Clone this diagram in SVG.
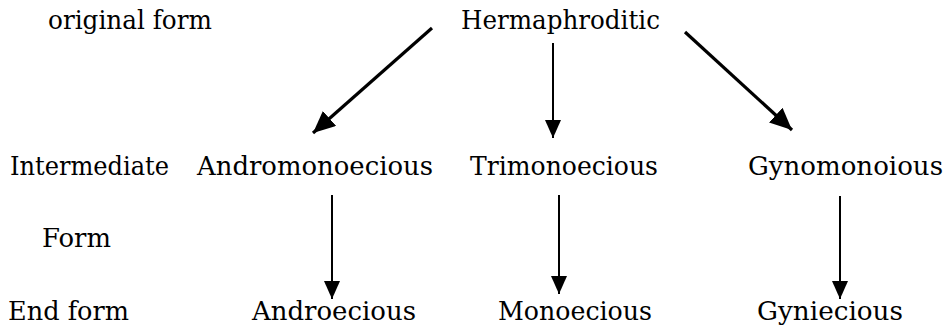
<svg xmlns="http://www.w3.org/2000/svg" width="949" height="334" viewBox="0 0 949 334">
<style>
text{font-family:"DejaVu Serif",serif;font-size:26px;fill:#000}
.c{stroke:#000;fill:none}
.thick{stroke-width:3.2}
.thin{stroke-width:2}
</style>
<defs>
<marker id="big" markerUnits="userSpaceOnUse" markerWidth="24" markerHeight="24" refX="22" refY="10" orient="auto">
<path d="M0,0 L22,10 L0,20 z" fill="#000"/>
</marker>
<marker id="small" markerUnits="userSpaceOnUse" markerWidth="24" markerHeight="24" refX="18" refY="8" orient="auto">
<path d="M0,0 L18,8 L0,16 z" fill="#000"/>
</marker>
</defs>
<rect width="949" height="334" fill="#fff"/>
<g id="label-original"><text x="48" y="29" textLength="164" lengthAdjust="spacingAndGlyphs">original form</text></g>
<g id="label-intermediate"><text x="10" y="175" textLength="159" lengthAdjust="spacingAndGlyphs">Intermediate</text></g>
<g id="label-form"><text x="42" y="247" textLength="69" lengthAdjust="spacingAndGlyphs">Form</text></g>
<g id="label-end"><text x="8" y="320" textLength="121" lengthAdjust="spacingAndGlyphs">End form</text></g>
<g id="n-hermaphroditic"><text x="461" y="29" textLength="199" lengthAdjust="spacingAndGlyphs">Hermaphroditic</text></g>
<g id="n-andromonoecious"><text x="197" y="175" textLength="236" lengthAdjust="spacingAndGlyphs">Andromonoecious</text></g>
<g id="n-trimonoecious"><text x="470" y="175" textLength="188" lengthAdjust="spacingAndGlyphs">Trimonoecious</text></g>
<g id="n-gynomonoious"><text x="748" y="175" textLength="195" lengthAdjust="spacingAndGlyphs">Gynomonoious</text></g>
<g id="n-androecious"><text x="252" y="320" textLength="164" lengthAdjust="spacingAndGlyphs">Androecious</text></g>
<g id="n-monoecious"><text x="498" y="320" textLength="154" lengthAdjust="spacingAndGlyphs">Monoecious</text></g>
<g id="n-gyniecious"><text x="757" y="320" textLength="146" lengthAdjust="spacingAndGlyphs">Gyniecious</text></g>
<g id="connectors">
<line class="c thick" x1="432" y1="28" x2="313" y2="133" marker-end="url(#big)"/>
<line class="c thin" x1="553" y1="43" x2="553" y2="138" marker-end="url(#small)"/>
<line class="c thick" x1="685" y1="32" x2="792" y2="130" marker-end="url(#big)"/>
<line class="c thin" x1="332" y1="195" x2="332" y2="299" marker-end="url(#small)"/>
<line class="c thin" x1="559" y1="195" x2="559" y2="294" marker-end="url(#small)"/>
<line class="c thin" x1="840" y1="196" x2="840" y2="299" marker-end="url(#small)"/>
</g>
</svg>
